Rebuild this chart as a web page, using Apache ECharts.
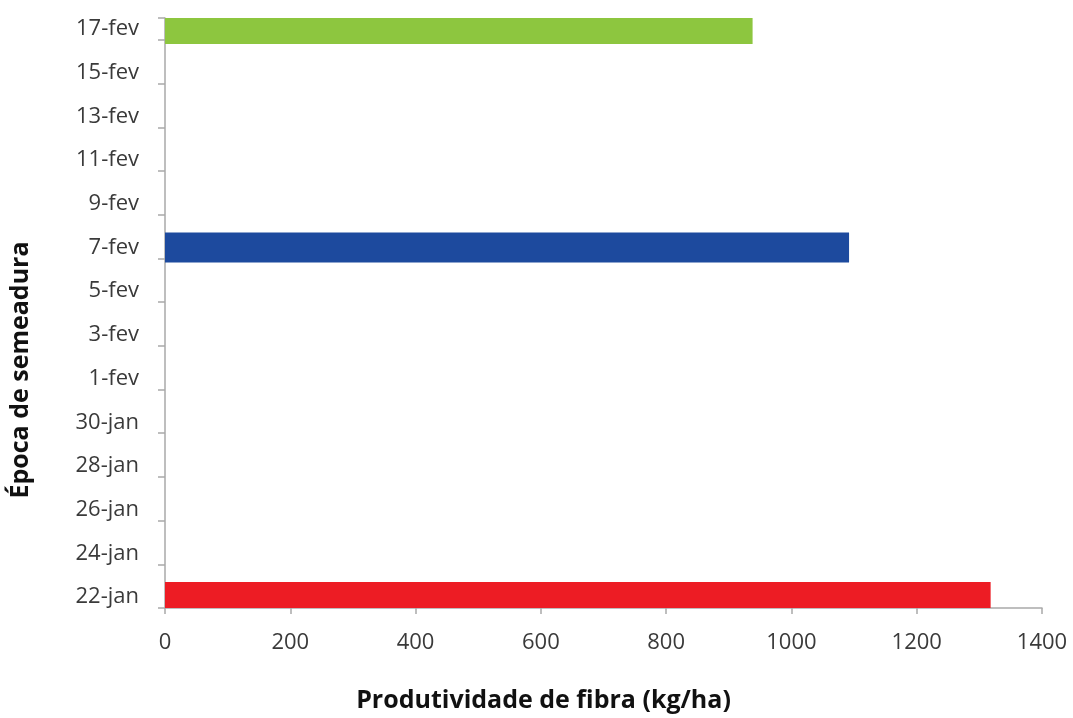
<!DOCTYPE html>
<html>
<head>
<meta charset="utf-8">
<title>Produtividade de fibra por época de semeadura</title>
<script src="https://cdn.jsdelivr.net/npm/echarts@6/dist/echarts.min.js"></script>
<style>
  html, body { margin: 0; padding: 0; background: #ffffff; }
  #chart { width: 1073px; height: 718px; }
</style>
</head>
<body>
<div id="chart"></div>
<script>
// Every sowing day on the vertical axis (one slot per day), bottom to top
const sowingDays = [
  '22-jan', '23-jan', '24-jan', '25-jan', '26-jan', '27-jan', '28-jan', '29-jan',
  '30-jan', '31-jan', '1-fev', '2-fev', '3-fev', '4-fev', '5-fev', '6-fev',
  '7-fev', '8-fev', '9-fev', '10-fev', '11-fev', '12-fev', '13-fev', '14-fev',
  '15-fev', '16-fev', '17-fev'
];

// Sowing dates that were evaluated and their fibre yield (kg/ha)
const sowingDates = ['22-jan', '7-fev', '17-fev'];
const fiberYield = [1318, 1092, 938];
const barColors = ['#ED1C24', '#1D4A9E', '#8DC63F'];

// Horizontal axis ticks
const yieldTicks = [0, 200, 400, 600, 800, 1000, 1200, 1400];

const FONT = '"Open Sans", "Noto Sans", sans-serif';
const AXIS_GREY = '#a9a9a9';

const chart = echarts.init(document.getElementById('chart'), null, { renderer: 'canvas' });

chart.setOption({
  backgroundColor: '#ffffff',
  animation: false,
  grid: { left: 165, right: 31, top: 18, bottom: 109, containLabel: false },
  xAxis: {
    type: 'value',
    min: yieldTicks[0],
    max: yieldTicks[yieldTicks.length - 1],
    interval: yieldTicks[1] - yieldTicks[0],
    name: 'Produtividade de fibra (kg/ha)',
    nameLocation: 'middle',
    nameGap: 80,
    nameTextStyle: {
      fontFamily: FONT, fontSize: 25, fontWeight: 'bold', color: '#111',
      padding: [0, 120, 0, 0]
    },
    axisLine: { show: true, lineStyle: { color: AXIS_GREY, width: 1.5 } },
    axisTick: { show: true, length: 6, lineStyle: { color: AXIS_GREY, width: 1.5 } },
    axisLabel: {
      fontFamily: FONT, fontSize: 22, color: '#3a3a3a', margin: 24,
      formatter: v => String(v)
    },
    splitLine: { show: false }
  },
  yAxis: {
    type: 'category',
    data: sowingDays,
    boundaryGap: true,
    name: 'Época de semeadura',
    nameLocation: 'middle',
    nameRotate: 90,
    nameGap: 132,
    nameTextStyle: {
      fontFamily: FONT, fontSize: 25, fontWeight: 'bold', color: '#111',
      padding: [0, 114, 0, 0]
    },
    axisLine: { show: true, lineStyle: { color: AXIS_GREY, width: 1.5 } },
    axisTick: {
      show: true, interval: 1, alignWithLabel: false, length: 7,
      lineStyle: { color: AXIS_GREY, width: 1.5 }
    },
    axisLabel: { interval: 1, fontFamily: FONT, fontSize: 22, color: '#3a3a3a', margin: 26 },
    splitLine: { show: false }
  },
  series: [{
    type: 'bar',
    barWidth: 30,
    data: sowingDates.map((d, i) => ({
      value: [fiberYield[i], d],
      itemStyle: { color: barColors[i] }
    }))
  }]
});
</script>
</body>
</html>
